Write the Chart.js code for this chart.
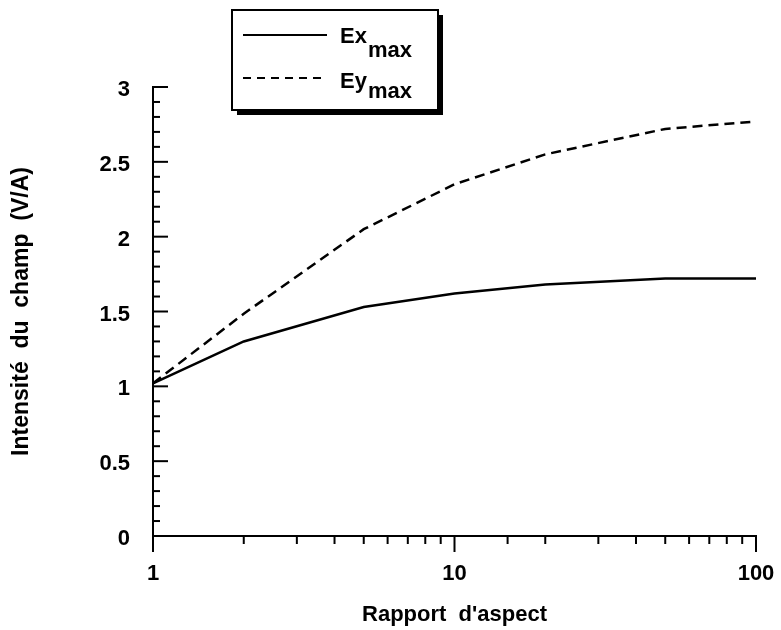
<!DOCTYPE html>
<html>
<head>
<meta charset="utf-8">
<script src="https://cdn.jsdelivr.net/npm/chart.js@4"></script>
<style>
  html, body { margin: 0; padding: 0; background: #fff; }
  #wrap { width: 781px; height: 630px; position: relative; }
</style>
</head>
<body>
<div id="wrap"><canvas id="c" width="781" height="630"></canvas></div>
<script>
// Aspect ratio (log axis) and maximum field intensities
const aspectRatios = [1, 2, 5, 10, 20, 50, 100];
const exMax = [1.02, 1.30, 1.53, 1.62, 1.68, 1.72, 1.72];
const eyMax = [1.02, 1.485, 2.05, 2.35, 2.55, 2.72, 2.77];

const seriesNames = ['Ex', 'Ey'];
const seriesSub = 'max';
const xLabelled = [1, 10, 100];
const yMajorStep = 0.5;
const yMinorStep = 0.1;
const xTitle = "Rapport  d'aspect";
const yTitle = 'Intensité  du  champ  (V/A)';

const FONT = '"Liberation Sans", Arial, Helvetica, sans-serif';
Chart.defaults.font.family = FONT;
Chart.defaults.font.weight = 'bold';
Chart.defaults.color = '#000';

function toPoints(xs, ys) { return xs.map((x, i) => ({ x: x, y: ys[i] })); }

function seg(ctx, ax, ay, bx, by) {
  ctx.beginPath(); ctx.moveTo(ax, ay); ctx.lineTo(bx, by); ctx.stroke();
}

// Keep the plot area fixed: no extra room for overhanging tick labels
function noOverhang(s) {
  s.paddingLeft = 0; s.paddingRight = 0; s.paddingTop = 0; s.paddingBottom = 0;
}

// Axis lines and tick marks: y ticks point inward, x ticks point outward
const axesPlugin = {
  id: 'axesPlugin',
  afterDatasetsDraw(chart) {
    const { ctx, scales: { x, y } } = chart;
    const xMin = x.getPixelForValue(x.min), xMax = x.getPixelForValue(x.max);
    const yBot = y.getPixelForValue(y.min), yTop = y.getPixelForValue(y.max);
    ctx.save();
    ctx.strokeStyle = '#000';
    ctx.lineWidth = 2;
    ctx.lineCap = 'butt';
    seg(ctx, xMin, yTop - 1, xMin, yBot + 16);
    seg(ctx, xMin - 1, yBot, xMax + 1, yBot);
    const nMinor = Math.round((y.max - y.min) / yMinorStep);
    const per = Math.round(yMajorStep / yMinorStep);
    for (let i = 0; i <= nMinor; i++) {
      const p = y.getPixelForValue(y.min + i * yMinorStep);
      seg(ctx, xMin, p, xMin + (i % per === 0 ? 15 : 7), p);
    }
    x.ticks.forEach(t => {
      const p = x.getPixelForValue(t.value);
      const major = xLabelled.includes(t.value);
      seg(ctx, p, yBot, p, yBot + (major ? 16 : 8));
    });
    ctx.restore();
  }
};

// Boxed legend with subscripted series names and a drop shadow
const legendPlugin = {
  id: 'legendBox',
  afterDraw(chart) {
    const { ctx } = chart;
    const bx = 232, by = 10, bw = 206, bh = 100, sh = 5;
    ctx.save();
    ctx.fillStyle = '#000';
    ctx.fillRect(bx + sh, by + bh, bw, sh);
    ctx.fillRect(bx + bw, by + sh, sh, bh);
    ctx.strokeStyle = '#000';
    ctx.lineWidth = 2;
    ctx.strokeRect(bx, by, bw, bh);
    const rows = [
      { y: 35, base: 43, sub: 57 },
      { y: 78, base: 88, sub: 98 }
    ];
    chart.data.datasets.forEach((ds, i) => {
      const r = rows[i];
      ctx.strokeStyle = ds.borderColor;
      ctx.lineWidth = 2;
      ctx.setLineDash(ds.borderDash ? [8, 6] : []);
      seg(ctx, 243, r.y, 327, r.y);
      ctx.setLineDash([]);
      ctx.fillStyle = '#000';
      ctx.textBaseline = 'alphabetic';
      ctx.textAlign = 'left';
      ctx.font = 'bold 22px ' + FONT;
      ctx.fillText(seriesNames[i], 340, r.base);
      const w = ctx.measureText(seriesNames[i]).width;
      ctx.fillText(seriesSub, 340 + w + 1, r.sub);
    });
    ctx.restore();
  }
};

new Chart(document.getElementById('c'), {
  type: 'line',
  data: {
    datasets: [
      {
        label: seriesNames[0] + seriesSub,
        data: toPoints(aspectRatios, exMax),
        borderColor: '#000',
        borderWidth: 2.5,
        pointRadius: 0,
        tension: 0,
        fill: false
      },
      {
        label: seriesNames[1] + seriesSub,
        data: toPoints(aspectRatios, eyMax),
        borderColor: '#000',
        borderWidth: 2.5,
        borderDash: [10, 6],
        pointRadius: 0,
        tension: 0,
        fill: false
      }
    ]
  },
  options: {
    responsive: false,
    animation: false,
    devicePixelRatio: 1,
    layout: { padding: { left: 0, top: 87, right: 25, bottom: 0 } },
    plugins: { legend: { display: false }, tooltip: { enabled: false } },
    scales: {
      x: {
        type: 'logarithmic',
        min: 1,
        max: 100,
        grid: { display: false, drawTicks: false },
        border: { display: false },
        ticks: {
          autoSkip: false,
          maxRotation: 0,
          minRotation: 0,
          padding: 25,
          font: { size: 22, weight: 'bold' },
          callback: (v) => xLabelled.includes(v) ? String(v) : ''
        },
        title: {
          display: true,
          text: xTitle,
          font: { size: 22, weight: 'bold' },
          padding: { top: 0, bottom: 2 }
        },
        afterFit: (s) => { s.height = 94; noOverhang(s); }
      },
      y: {
        type: 'linear',
        min: 0,
        max: 3,
        grid: { display: false, drawTicks: false },
        border: { display: false },
        ticks: {
          stepSize: yMajorStep,
          padding: 23,
          labelOffset: 3,
          font: { size: 22, weight: 'bold' },
          callback: (v) => String(v)
        },
        title: {
          display: true,
          text: yTitle,
          font: { size: 23, weight: 'bold' },
          padding: { top: 8, bottom: 0 }
        },
        afterFit: (s) => { s.width = 153; noOverhang(s); }
      }
    }
  },
  plugins: [axesPlugin, legendPlugin]
});
</script>
</body>
</html>
